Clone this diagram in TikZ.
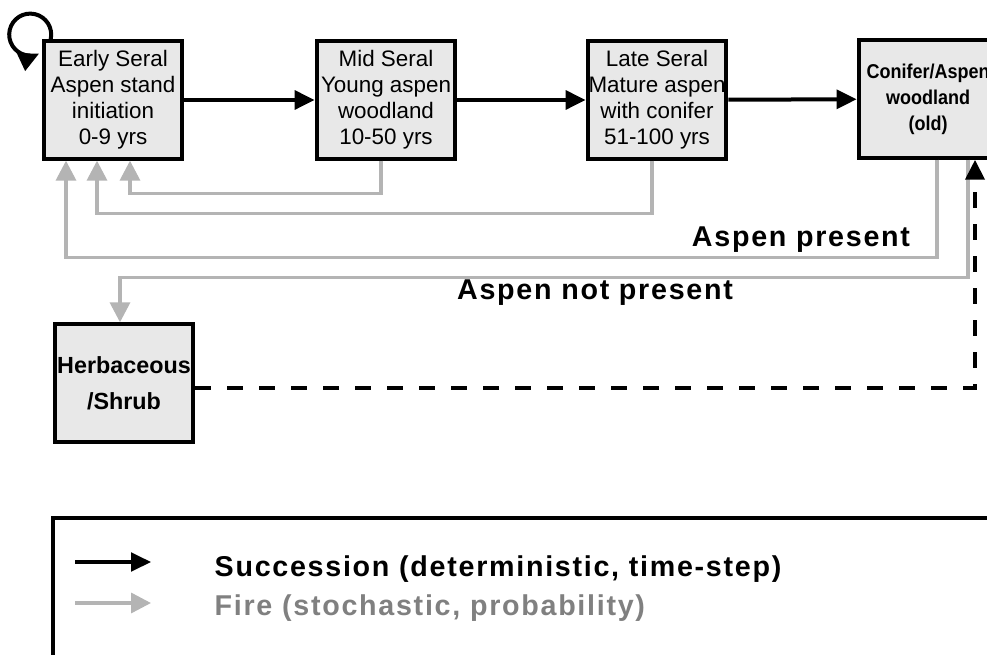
\documentclass[tikz,border=0pt]{standalone}
\usepackage{fontspec}
\setmainfont{Liberation Sans}
\newfontfamily\spacedsans[LetterSpace=6]{Liberation Sans}
\newfontfamily\narrowsans[FakeStretch=0.9]{Liberation Sans}
\usetikzlibrary{calc, arrows.meta}
\definecolor{boxfill}{HTML}{E8E8E8}
\definecolor{firegray}{HTML}{B4B4B4}
\definecolor{legendgray}{HTML}{808080}

\begin{document}
\begin{tikzpicture}[x=0.75pt, y=0.75pt,
        stage/.style={draw, line width=3pt, fill=boxfill, minimum width=104pt, minimum height=88pt,
            inner sep=0pt, align=center, font=\fontsize{16.8}{19.5}\selectfont},
        succ/.style={line width=3pt, -{Triangle[length=15pt, width=14pt]}},
        fire/.style={draw=firegray, line width=2.6pt, -{Triangle[length=15pt, width=15pt]}},
        pathlabel/.style={anchor=base, font=\spacedsans\bfseries\fontsize{21.5}{24}\selectfont},
        legendtext/.style={anchor=base west, font=\spacedsans\bfseries\fontsize{21.5}{24}\selectfont}]
        \useasboundingbox (0, 0) rectangle (987, -655);
        \clip (0, 0) rectangle (987, -655);

        \node[stage] (early) at (113, -100) {Early Seral\\Aspen stand\\initiation\\0-9 yrs};
        \node[stage] (mid) at (386, -100) {Mid Seral\\Young aspen\\woodland\\10-50 yrs};
        \node[stage] (late) at (657, -100) {Late Seral\\Mature aspen\\with conifer\\51-100 yrs};
        \node[stage, font=\narrowsans\bfseries\fontsize{15}{19.5}\selectfont] (conifer) at (928, -99) {Conifer/Aspen\\woodland\\(old)};
        \node[stage, font=\bfseries\fontsize{17.5}{27}\selectfont] (herb) at (124, -383) {Herbaceous\\/Shrub};

        \draw[succ] ($(early.north west)+(9, 0)$) arc[start angle=-13, end angle=295, radius=21];
        \draw[succ] (early) -- (mid);
        \draw[succ] (mid) -- (late);
        \draw[succ] (late) -- (conifer);

        \draw[fire] ($(mid.south)+(-5, 0)$) -- ++(0, -33) -| ($(early.south)+(17, 0)$);
        \draw[fire] ($(late.south)+(-5, 0)$) -- ++(0, -53) -| ($(early.south)+(-16, 0)$);
        \draw[fire] ($(conifer.south)+(9, 0)$) -- ++(0, -98) -| ($(early.south)+(-47, 0)$);
        \draw[fire] ($(conifer.south)+(40, 0)$) -- ++(0, -118) -| ($(herb.north)+(-4, 0)$);

        \draw[succ, dash pattern=on 12pt off 12pt, line width=3.5pt] ($(herb.east)+(0, -5)$) -| ($(conifer.south)+(47, 0)$);

        \node[pathlabel] (present) at (801, -247) {Aspen present};
        \node[pathlabel] (notpresent) at (595, -300) {Aspen not present};

        \draw[line width=2.5pt] (53, -518) rectangle (1000, -670);
        \coordinate (succ from) at (75, -562);
        \coordinate (succ to) at (151, -562);
        \coordinate (fire from) at (75, -603);
        \coordinate (fire to) at (151, -603);
        \draw[succ, line width=2.6pt] (succ from) -- (succ to);
        \draw[fire] (fire from) -- (fire to);
        \node[legendtext] (succ text) at (210, -576) {Succession (deterministic, time-step)};
        \node[legendtext, text=legendgray] (fire text) at (210, -615) {Fire (stochastic, probability)};
    \end{tikzpicture}
\end{document}
